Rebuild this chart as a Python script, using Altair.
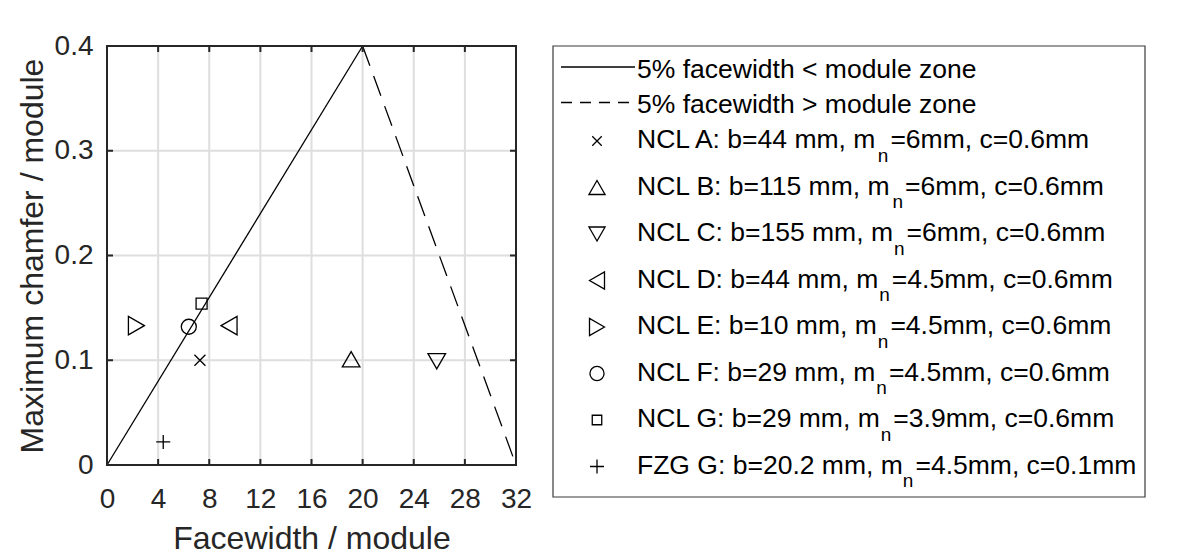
import altair as alt
import pandas as pd

# ---------------- data ----------------
names = ["NCL A", "NCL B", "NCL C", "NCL D", "NCL E", "NCL F", "NCL G", "FZG G"]
facewidth_per_module = [7.27, 19.1, 25.8, 9.55, 2.3, 6.4, 7.4, 4.4]
chamfer_per_module = [0.100, 0.101, 0.099, 0.133, 0.133, 0.132, 0.154, 0.022]

label_prefix = [
    "NCL A: b=44 mm, m", "NCL B: b=115 mm, m", "NCL C: b=155 mm, m",
    "NCL D: b=44 mm, m", "NCL E: b=10 mm, m", "NCL F: b=29 mm, m",
    "NCL G: b=29 mm, m", "FZG G: b=20.2 mm, m",
]
label_sub = "n"
label_suffix = [
    "=6mm, c=0.6mm", "=6mm, c=0.6mm", "=6mm, c=0.6mm",
    "=4.5mm, c=0.6mm", "=4.5mm, c=0.6mm", "=4.5mm, c=0.6mm",
    "=3.9mm, c=0.6mm", "=4.5mm, c=0.1mm",
]

zone_lt_x = [0, 20]
zone_lt_y = [0.0, 0.4]
zone_gt_x = [20, 32]
zone_gt_y = [0.4, 0.0]
zone_labels = ["5% facewidth < module zone", "5% facewidth > module zone"]

x_ticks = [0, 4, 8, 12, 16, 20, 24, 28, 32]
y_ticks = [0, 0.1, 0.2, 0.3, 0.4]

# ---------------- styles / layout ----------------
SHAPE_OF = {
    "NCL A": "M-1,-1L1,1M-1,1L1,-1",   # x
    "NCL B": "triangle-up", "NCL C": "triangle-down",
    "NCL D": "triangle-left", "NCL E": "triangle-right",
    "NCL F": "circle", "NCL G": "square",
    "FZG G": "M-1,0L1,0M0,-1L0,1",     # +
}
SIZE_OF = {"NCL A": 121, "NCL B": 310, "NCL C": 310, "NCL D": 340, "NCL E": 340,
           "NCL F": 225, "NCL G": 121, "FZG G": 196}
LEG_SIZE_OF = {"NCL A": 90, "NCL B": 260, "NCL C": 260, "NCL D": 300, "NCL E": 300,
               "NCL F": 200, "NCL G": 90, "FZG G": 196}

W, H = 409, 419
PAD_L, PAD_T = 107, 46
FONT = "Liberation Sans"
AX = "#262626"
GRID = "#dedede"
LEG_FS = 26.5
SUB_FS = 19

ARIAL = {' ': 278, 'N': 722, 'C': 722, 'L': 556, 'A': 667, 'B': 667, 'D': 722,
         'E': 667, 'F': 611, 'G': 778, 'Z': 611, ':': 278, 'b': 556, '=': 584,
         '.': 278, ',': 278, 'm': 833, 'n': 556, 'c': 500}
def text_w(s, fs):
    return sum(ARIAL.get(ch, 556) for ch in s) * fs / 1000.0

xscale = alt.Scale(domain=[0, 32], nice=False, zero=False)
yscale = alt.Scale(domain=[0, 0.4], nice=False, zero=False)

xaxis = alt.Axis(values=x_ticks, title="Facewidth / module", grid=False, domain=False,
                 ticks=False, tickSize=0, labelFont=FONT, labelFontSize=28,
                 labelColor=AX, labelPadding=42, labelBaseline="alphabetic",
                 labelFlush=False, labelOverlap=False,
                 titleFont=FONT, titleFontSize=32, titleFontWeight="normal",
                 titleColor=AX, titleX=W / 2, titleY=83, titleAlign="center",
                 titleBaseline="alphabetic")
yaxis = alt.Axis(values=y_ticks, title="Maximum chamfer / module", grid=False, domain=False,
                 ticks=False, tickSize=0, labelFont=FONT, labelFontSize=28,
                 labelColor=AX, labelPadding=14, labelFlush=False, labelOverlap=False,
                 labelExpr="datum.value == 0 ? '0' : format(datum.value, '.1f')",
                 titleFont=FONT, titleFontSize=32, titleFontWeight="normal",
                 titleColor=AX, titleX=-65, titleY=H / 2, titleAngle=270,
                 titleAlign="center", titleBaseline="alphabetic")

def X(f):
    return alt.X(f, type="quantitative", scale=xscale, axis=xaxis)
def Y(f):
    return alt.Y(f, type="quantitative", scale=yscale, axis=yaxis)

shape_enc = alt.Shape("name:N", scale=alt.Scale(domain=names, range=[SHAPE_OF[n] for n in names]),
                      legend=None)

# ---------------- plot layers ----------------
xg = pd.DataFrame({"v": x_ticks[1:-1]})
yg = pd.DataFrame({"v": y_ticks[1:-1]})
grid_x = alt.Chart(xg).mark_rule(color=GRID, strokeWidth=2).encode(
    x=X("v"), y=alt.value(0), y2=alt.value(H))
grid_y = alt.Chart(yg).mark_rule(color=GRID, strokeWidth=2).encode(
    y=Y("v"), x=alt.value(0), x2=alt.value(W))

lt = pd.DataFrame({"x": zone_lt_x, "y": zone_lt_y})
gt = pd.DataFrame({"x": zone_gt_x, "y": zone_gt_y})
line_lt = alt.Chart(lt).mark_line(color="black", strokeWidth=1.3).encode(x=X("x"), y=Y("y"))
line_gt = alt.Chart(gt).mark_line(color="black", strokeWidth=1.3, strokeDash=[21, 11]).encode(
    x=X("x"), y=Y("y"))

pts = pd.DataFrame({"name": names, "x": facewidth_per_module, "y": chamfer_per_module})
pts["sz"] = pts["name"].map(SIZE_OF)
points = alt.Chart(pts).mark_point(filled=False, color="black", strokeWidth=1.3, opacity=1).encode(
    x=X("x"), y=Y("y"), shape=shape_enc, size=alt.Size("sz:Q", scale=None, legend=None))

frame = alt.Chart(pd.DataFrame({"a": [0]})).mark_rect(
    fill="transparent", stroke=AX, strokeWidth=2).encode(
    x=alt.value(0), x2=alt.value(W), y=alt.value(0), y2=alt.value(H))

TL = 6
xt = pd.DataFrame({"v": x_ticks})
yt = pd.DataFrame({"v": y_ticks})
tick_b = alt.Chart(xt).mark_rule(color=AX, strokeWidth=2).encode(
    x=X("v"), y=alt.value(H), y2=alt.value(H - TL))
tick_t = alt.Chart(xt).mark_rule(color=AX, strokeWidth=2).encode(
    x=X("v"), y=alt.value(0), y2=alt.value(TL))
tick_l = alt.Chart(yt).mark_rule(color=AX, strokeWidth=2).encode(
    y=Y("v"), x=alt.value(0), x2=alt.value(TL))
tick_r = alt.Chart(yt).mark_rule(color=AX, strokeWidth=2).encode(
    y=Y("v"), x=alt.value(W), x2=alt.value(W - TL))

# ---------------- legend (pixel layout, relative to plot origin) ----------------
BOX_X0, BOX_X1, BOX_Y0, BOX_Y1 = 446, 1038, 0, 451
TXT_X = 530
SYM_X = 490
LINE_X0, LINE_X1 = 454, 528
line_baselines = [32, 67]
line_ys = [21, 56.5]
row0, row_step = 102, 46.5

box = alt.Chart(pd.DataFrame({"x0": [BOX_X0], "x1": [BOX_X1], "y0": [BOX_Y0], "y1": [BOX_Y1]})).mark_rect(
    fill="white", stroke="#3a3a3a", strokeWidth=1.2).encode(
    x=alt.X("x0:Q", scale=None), x2="x1:Q", y=alt.Y("y0:Q", scale=None), y2="y1:Q")

leg_solid = alt.Chart(pd.DataFrame({"x0": [LINE_X0], "x1": [LINE_X1], "y": [line_ys[0]]})).mark_rule(
    color="black", strokeWidth=1.3).encode(
    x=alt.X("x0:Q", scale=None), x2="x1:Q", y=alt.Y("y:Q", scale=None))
leg_dash = alt.Chart(pd.DataFrame({"x0": [LINE_X0], "x1": [LINE_X1], "y": [line_ys[1]]})).mark_rule(
    color="black", strokeWidth=1.3, strokeDash=[11, 8]).encode(
    x=alt.X("x0:Q", scale=None), x2="x1:Q", y=alt.Y("y:Q", scale=None))

line_txt_df = pd.DataFrame({"t": zone_labels, "x": [TXT_X, TXT_X], "y": line_baselines})
line_txt = alt.Chart(line_txt_df).mark_text(
    align="left", baseline="alphabetic", font=FONT, fontSize=LEG_FS, color="black").encode(
    x=alt.X("x:Q", scale=None), y=alt.Y("y:Q", scale=None), text="t:N")

rows = []
for i, nm in enumerate(names):
    base = row0 + i * row_step
    pre_w = text_w(label_prefix[i], LEG_FS)
    rows.append({
        "name": nm, "pre": label_prefix[i], "sub": label_sub, "suf": label_suffix[i],
        "sy": base - 7, "sx": SYM_X, "base": base, "subbase": base + 13.5,
        "px": TXT_X, "subx": TXT_X + pre_w, "sufx": TXT_X + pre_w + 12.6,
        "sz": LEG_SIZE_OF[nm],
    })
leg_df = pd.DataFrame(rows)

leg_sym = alt.Chart(leg_df).mark_point(filled=False, color="black", strokeWidth=1.3, opacity=1).encode(
    x=alt.X("sx:Q", scale=None), y=alt.Y("sy:Q", scale=None), shape=shape_enc,
    size=alt.Size("sz:Q", scale=None, legend=None))
txt_kw = dict(align="left", baseline="alphabetic", font=FONT, color="black")
leg_pre = alt.Chart(leg_df).mark_text(fontSize=LEG_FS, **txt_kw).encode(
    x=alt.X("px:Q", scale=None), y=alt.Y("base:Q", scale=None), text="pre:N")
leg_sub = alt.Chart(leg_df).mark_text(fontSize=SUB_FS, **txt_kw).encode(
    x=alt.X("subx:Q", scale=None), y=alt.Y("subbase:Q", scale=None), text="sub:N")
leg_suf = alt.Chart(leg_df).mark_text(fontSize=LEG_FS, **txt_kw).encode(
    x=alt.X("sufx:Q", scale=None), y=alt.Y("base:Q", scale=None), text="suf:N")

chart = alt.layer(
    grid_x, grid_y, line_lt, line_gt, points, frame, tick_b, tick_t, tick_l, tick_r,
    box, leg_solid, leg_dash, line_txt, leg_sym, leg_pre, leg_sub, leg_suf,
).properties(
    width=W, height=H,
    autosize=alt.AutoSizeParams(type="none"),
    padding={"left": PAD_L, "top": PAD_T, "right": 1188 - PAD_L - W, "bottom": 554 - PAD_T - H},
    background="white",
).configure_view(stroke=None)

chart.save("out.html", embed_options={"renderer": "svg", "actions": False})
